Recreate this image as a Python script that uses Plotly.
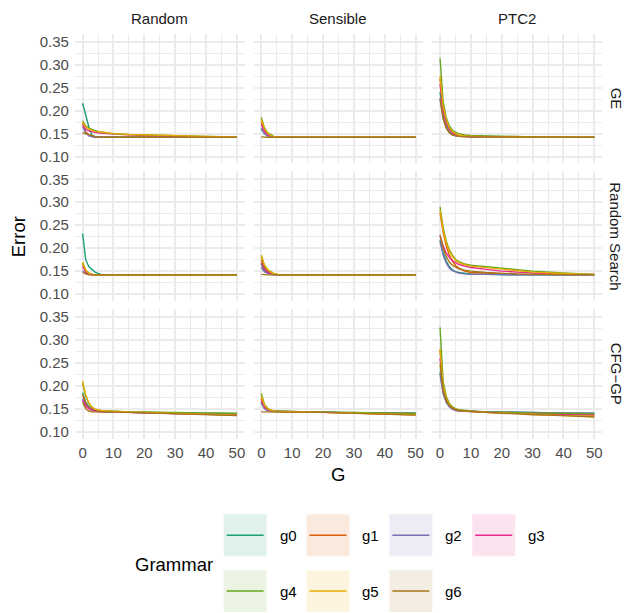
import plotly.graph_objects as go
from plotly.subplots import make_subplots

# page body has an 8px default margin, so the figure is drawn 8px in from the window corner
OFF = 8
W, H = 635 - OFF, 613 - OFF

GRAMMARS = ["g0", "g1", "g2", "g3", "g4", "g5", "g6"]
COLORS = ["#1B9E77", "#D95F02", "#7570B3", "#E7298A", "#66A61E", "#E6AB02", "#A6761D"]
INITS = ["Random", "Sensible", "PTC2"]
METHODS = ["GE", "Random Search", "CFG\u2212GP"]
X_TICKS = [0, 10, 20, 30, 40, 50]
Y_TICKS = [0.10, 0.15, 0.20, 0.25, 0.30, 0.35]
Y_TICK_TEXT = ["0.10", "0.15", "0.20", "0.25", "0.30", "0.35"]

G = [0, 1, 2, 3, 4, 5, 6, 8, 10, 15, 20, 25, 30, 40, 50]

# ---- GE ----
GE_RANDOM = {
    "g0": [0.216, 0.190, 0.165, 0.147, 0.143, 0.142, 0.142, 0.142, 0.142, 0.142, 0.142, 0.142, 0.142, 0.142, 0.142],
    "g1": [0.172, 0.155, 0.147, 0.144, 0.142, 0.142, 0.142, 0.142, 0.142, 0.142, 0.142, 0.142, 0.142, 0.142, 0.142],
    "g2": [0.165, 0.152, 0.145, 0.143, 0.142, 0.142, 0.142, 0.142, 0.142, 0.142, 0.142, 0.142, 0.142, 0.142, 0.142],
    "g3": [0.168, 0.160, 0.156, 0.154, 0.153, 0.152, 0.151, 0.150, 0.149, 0.147, 0.146, 0.145, 0.144, 0.143, 0.142],
    "g4": [0.178, 0.167, 0.162, 0.159, 0.157, 0.155, 0.154, 0.152, 0.150, 0.148, 0.147, 0.146, 0.145, 0.144, 0.143],
    "g5": [0.175, 0.165, 0.160, 0.157, 0.155, 0.154, 0.153, 0.151, 0.150, 0.148, 0.147, 0.146, 0.145, 0.144, 0.143],
    "g6": [0.152, 0.150, 0.147, 0.145, 0.143, 0.142, 0.142, 0.142, 0.142, 0.142, 0.142, 0.142, 0.142, 0.142, 0.142],
}
GE_SENSIBLE = {
    "g0": [0.160, 0.150, 0.145, 0.143, 0.142, 0.142, 0.142, 0.142, 0.142, 0.142, 0.142, 0.142, 0.142, 0.142, 0.142],
    "g1": [0.175, 0.158, 0.149, 0.145, 0.143, 0.142, 0.142, 0.142, 0.142, 0.142, 0.142, 0.142, 0.142, 0.142, 0.142],
    "g2": [0.162, 0.150, 0.145, 0.143, 0.142, 0.142, 0.142, 0.142, 0.142, 0.142, 0.142, 0.142, 0.142, 0.142, 0.142],
    "g3": [0.170, 0.155, 0.148, 0.145, 0.143, 0.142, 0.142, 0.142, 0.142, 0.142, 0.142, 0.142, 0.142, 0.142, 0.142],
    "g4": [0.185, 0.163, 0.152, 0.147, 0.144, 0.143, 0.142, 0.142, 0.142, 0.142, 0.142, 0.142, 0.142, 0.142, 0.142],
    "g5": [0.180, 0.162, 0.151, 0.146, 0.144, 0.143, 0.142, 0.142, 0.142, 0.142, 0.142, 0.142, 0.142, 0.142, 0.142],
    "g6": [0.143, 0.142, 0.142, 0.142, 0.142, 0.142, 0.142, 0.142, 0.142, 0.142, 0.142, 0.142, 0.142, 0.142, 0.142],
}
GE_PTC2 = {
    "g0": [0.240, 0.195, 0.170, 0.157, 0.150, 0.147, 0.145, 0.144, 0.143, 0.143, 0.142, 0.142, 0.142, 0.142, 0.142],
    "g1": [0.270, 0.205, 0.177, 0.161, 0.152, 0.148, 0.146, 0.144, 0.144, 0.143, 0.142, 0.142, 0.142, 0.142, 0.142],
    "g2": [0.228, 0.185, 0.163, 0.153, 0.148, 0.145, 0.144, 0.143, 0.143, 0.142, 0.142, 0.142, 0.142, 0.142, 0.142],
    "g3": [0.258, 0.200, 0.174, 0.160, 0.152, 0.148, 0.146, 0.144, 0.143, 0.143, 0.142, 0.142, 0.142, 0.142, 0.142],
    "g4": [0.314, 0.220, 0.185, 0.167, 0.158, 0.153, 0.150, 0.147, 0.146, 0.145, 0.144, 0.143, 0.143, 0.142, 0.142],
    "g5": [0.275, 0.210, 0.180, 0.163, 0.154, 0.150, 0.147, 0.145, 0.144, 0.143, 0.143, 0.142, 0.142, 0.142, 0.142],
    "g6": [0.225, 0.182, 0.162, 0.152, 0.147, 0.145, 0.144, 0.143, 0.143, 0.142, 0.142, 0.142, 0.142, 0.142, 0.142],
}

# ---- Random Search ----
RS_RANDOM = {
    "g0": [0.232, 0.175, 0.160, 0.153, 0.148, 0.145, 0.143, 0.142, 0.142, 0.142, 0.142, 0.142, 0.142, 0.142, 0.142],
    "g1": [0.165, 0.150, 0.145, 0.143, 0.142, 0.142, 0.142, 0.142, 0.142, 0.142, 0.142, 0.142, 0.142, 0.142, 0.142],
    "g2": [0.150, 0.145, 0.143, 0.142, 0.142, 0.142, 0.142, 0.142, 0.142, 0.142, 0.142, 0.142, 0.142, 0.142, 0.142],
    "g3": [0.160, 0.148, 0.144, 0.142, 0.142, 0.142, 0.142, 0.142, 0.142, 0.142, 0.142, 0.142, 0.142, 0.142, 0.142],
    "g4": [0.168, 0.152, 0.146, 0.143, 0.142, 0.142, 0.142, 0.142, 0.142, 0.142, 0.142, 0.142, 0.142, 0.142, 0.142],
    "g5": [0.170, 0.153, 0.146, 0.143, 0.142, 0.142, 0.142, 0.142, 0.142, 0.142, 0.142, 0.142, 0.142, 0.142, 0.142],
    "g6": [0.148, 0.144, 0.142, 0.142, 0.142, 0.142, 0.142, 0.142, 0.142, 0.142, 0.142, 0.142, 0.142, 0.142, 0.142],
}
RS_SENSIBLE = {
    "g0": [0.165, 0.152, 0.147, 0.144, 0.143, 0.142, 0.142, 0.142, 0.142, 0.142, 0.142, 0.142, 0.142, 0.142, 0.142],
    "g1": [0.175, 0.158, 0.150, 0.146, 0.144, 0.143, 0.142, 0.142, 0.142, 0.142, 0.142, 0.142, 0.142, 0.142, 0.142],
    "g2": [0.158, 0.149, 0.145, 0.143, 0.142, 0.142, 0.142, 0.142, 0.142, 0.142, 0.142, 0.142, 0.142, 0.142, 0.142],
    "g3": [0.168, 0.155, 0.148, 0.145, 0.143, 0.142, 0.142, 0.142, 0.142, 0.142, 0.142, 0.142, 0.142, 0.142, 0.142],
    "g4": [0.182, 0.162, 0.153, 0.148, 0.145, 0.143, 0.142, 0.142, 0.142, 0.142, 0.142, 0.142, 0.142, 0.142, 0.142],
    "g5": [0.185, 0.164, 0.154, 0.148, 0.145, 0.143, 0.142, 0.142, 0.142, 0.142, 0.142, 0.142, 0.142, 0.142, 0.142],
    "g6": [0.143, 0.142, 0.142, 0.142, 0.142, 0.142, 0.142, 0.142, 0.142, 0.142, 0.142, 0.142, 0.142, 0.142, 0.142],
}
RS_PTC2 = {
    "g0": [0.218, 0.190, 0.172, 0.160, 0.153, 0.149, 0.147, 0.145, 0.144, 0.143, 0.142, 0.142, 0.142, 0.142, 0.142],
    "g1": [0.277, 0.235, 0.205, 0.185, 0.172, 0.163, 0.157, 0.150, 0.147, 0.145, 0.144, 0.143, 0.143, 0.142, 0.142],
    "g2": [0.215, 0.185, 0.168, 0.157, 0.151, 0.148, 0.146, 0.144, 0.143, 0.143, 0.142, 0.142, 0.142, 0.142, 0.142],
    "g3": [0.228, 0.205, 0.190, 0.180, 0.173, 0.168, 0.165, 0.161, 0.158, 0.154, 0.150, 0.148, 0.146, 0.144, 0.143],
    "g4": [0.290, 0.245, 0.215, 0.197, 0.185, 0.176, 0.171, 0.166, 0.163, 0.160, 0.157, 0.153, 0.150, 0.146, 0.143],
    "g5": [0.283, 0.240, 0.212, 0.194, 0.182, 0.174, 0.169, 0.164, 0.161, 0.158, 0.155, 0.151, 0.148, 0.145, 0.143],
    "g6": [0.229, 0.200, 0.182, 0.170, 0.163, 0.158, 0.155, 0.152, 0.150, 0.147, 0.145, 0.144, 0.143, 0.142, 0.142],
}

# ---- CFG-GP ----
CFG_RANDOM = {
    "g0": [0.185, 0.165, 0.155, 0.150, 0.147, 0.145, 0.145, 0.144, 0.144, 0.143, 0.142, 0.141, 0.140, 0.140, 0.139],
    "g1": [0.180, 0.162, 0.153, 0.148, 0.146, 0.145, 0.144, 0.144, 0.143, 0.142, 0.141, 0.140, 0.139, 0.138, 0.137],
    "g2": [0.172, 0.158, 0.151, 0.147, 0.145, 0.144, 0.144, 0.143, 0.143, 0.142, 0.141, 0.140, 0.139, 0.138, 0.137],
    "g3": [0.168, 0.156, 0.150, 0.147, 0.145, 0.144, 0.144, 0.143, 0.143, 0.142, 0.141, 0.140, 0.139, 0.138, 0.137],
    "g4": [0.205, 0.178, 0.162, 0.153, 0.149, 0.147, 0.146, 0.145, 0.144, 0.143, 0.143, 0.142, 0.142, 0.141, 0.140],
    "g5": [0.210, 0.180, 0.163, 0.154, 0.149, 0.147, 0.146, 0.145, 0.144, 0.143, 0.142, 0.141, 0.140, 0.138, 0.136],
    "g6": [0.165, 0.150, 0.145, 0.143, 0.143, 0.143, 0.143, 0.143, 0.142, 0.142, 0.141, 0.140, 0.139, 0.137, 0.135],
}
CFG_SENSIBLE = {
    "g0": [0.165, 0.152, 0.147, 0.145, 0.144, 0.144, 0.144, 0.144, 0.144, 0.143, 0.143, 0.142, 0.142, 0.141, 0.140],
    "g1": [0.172, 0.156, 0.149, 0.146, 0.145, 0.144, 0.144, 0.144, 0.143, 0.143, 0.142, 0.141, 0.140, 0.138, 0.137],
    "g2": [0.162, 0.150, 0.146, 0.145, 0.144, 0.144, 0.144, 0.144, 0.144, 0.143, 0.143, 0.142, 0.142, 0.141, 0.141],
    "g3": [0.168, 0.154, 0.148, 0.146, 0.145, 0.144, 0.144, 0.144, 0.143, 0.143, 0.142, 0.141, 0.140, 0.139, 0.138],
    "g4": [0.183, 0.160, 0.151, 0.147, 0.145, 0.145, 0.144, 0.144, 0.144, 0.143, 0.143, 0.142, 0.142, 0.141, 0.140],
    "g5": [0.178, 0.158, 0.150, 0.147, 0.145, 0.144, 0.144, 0.144, 0.143, 0.143, 0.142, 0.141, 0.140, 0.138, 0.137],
    "g6": [0.143, 0.143, 0.143, 0.143, 0.143, 0.143, 0.143, 0.143, 0.143, 0.142, 0.142, 0.141, 0.140, 0.138, 0.136],
}
CFG_PTC2 = {
    "g0": [0.230, 0.185, 0.165, 0.155, 0.150, 0.147, 0.146, 0.145, 0.144, 0.143, 0.143, 0.142, 0.141, 0.140, 0.139],
    "g1": [0.278, 0.198, 0.172, 0.159, 0.152, 0.149, 0.147, 0.145, 0.144, 0.142, 0.141, 0.140, 0.139, 0.137, 0.136],
    "g2": [0.225, 0.183, 0.164, 0.154, 0.149, 0.146, 0.145, 0.144, 0.144, 0.143, 0.143, 0.142, 0.142, 0.141, 0.141],
    "g3": [0.260, 0.193, 0.170, 0.158, 0.151, 0.148, 0.146, 0.145, 0.144, 0.142, 0.141, 0.140, 0.139, 0.138, 0.137],
    "g4": [0.327, 0.210, 0.177, 0.162, 0.154, 0.150, 0.148, 0.146, 0.145, 0.143, 0.142, 0.142, 0.141, 0.140, 0.139],
    "g5": [0.280, 0.200, 0.173, 0.160, 0.152, 0.149, 0.147, 0.145, 0.144, 0.142, 0.141, 0.139, 0.138, 0.135, 0.133],
    "g6": [0.247, 0.190, 0.168, 0.157, 0.151, 0.148, 0.146, 0.145, 0.144, 0.142, 0.140, 0.139, 0.137, 0.135, 0.132],
}

PANELS = [
    [GE_RANDOM, GE_SENSIBLE, GE_PTC2],
    [RS_RANDOM, RS_SENSIBLE, RS_PTC2],
    [CFG_RANDOM, CFG_SENSIBLE, CFG_PTC2],
]

FONT = "Liberation Sans, Arial, Helvetica, sans-serif"
GRID = "#EBEBEB"

# panel geometry in window pixels
COL_X = [(75, 245), (254, 424), (433, 603)]
ROW_Y = [(33, 163), (171, 301), (309, 439)]


def px_x(x):
    return (x - OFF) / W


def px_y(y):
    return 1 - (y - OFF) / H


fig = make_subplots(rows=3, cols=3)

for r in range(3):
    for c in range(3):
        panel = PANELS[r][c]
        for gi, gname in enumerate(GRAMMARS):
            fig.add_trace(
                go.Scatter(
                    x=G, y=panel[gname], mode="lines",
                    line=dict(color=COLORS[gi], width=1.4),
                    name=gname, showlegend=False, hoverinfo="skip",
                ),
                row=r + 1, col=c + 1,
            )

for r in range(3):
    for c in range(3):
        idx = r * 3 + c + 1
        xk = "xaxis" if idx == 1 else f"xaxis{idx}"
        yk = "yaxis" if idx == 1 else f"yaxis{idx}"
        x0, x1 = COL_X[c]
        y0, y1 = ROW_Y[r]
        fig.layout[xk].update(
            domain=[px_x(x0), px_x(x1)],
            range=[-2.5, 52.5],
            tickvals=X_TICKS, ticktext=[str(v) for v in X_TICKS],
            showticklabels=(r == 2),
            showgrid=True, gridcolor=GRID, gridwidth=1.7,
            minor=dict(dtick=5, tick0=0, showgrid=True, gridcolor=GRID, gridwidth=1.1),
            zeroline=False, showline=False, ticks="",
            tickfont=dict(family=FONT, size=15, color="#4D4D4D"),
            ticklabelstandoff=3,
        )
        fig.layout[yk].update(
            domain=[px_y(y1), px_y(y0)],
            range=[0.085, 0.367],
            tickvals=Y_TICKS, ticktext=Y_TICK_TEXT,
            showticklabels=(c == 0),
            showgrid=True, gridcolor=GRID, gridwidth=1.7,
            minor=dict(dtick=0.025, tick0=0.1, showgrid=True, gridcolor=GRID, gridwidth=1.1),
            zeroline=False, showline=False, ticks="",
            tickfont=dict(family=FONT, size=15, color="#4D4D4D"),
            ticklabelstandoff=5,
        )

annotations = []
# column strips
for c, name in enumerate(INITS):
    x0, x1 = COL_X[c]
    annotations.append(dict(
        text=name, x=px_x((x0 + x1) / 2), y=px_y(18), xref="paper", yref="paper",
        xanchor="center", yanchor="middle", showarrow=False,
        font=dict(family=FONT, size=15, color="#1A1A1A"),
    ))
# row strips
for r, name in enumerate(METHODS):
    y0, y1 = ROW_Y[r]
    annotations.append(dict(
        text=name, x=px_x(617), y=px_y((y0 + y1) / 2), xref="paper", yref="paper",
        xanchor="center", yanchor="middle", showarrow=False, textangle=90,
        font=dict(family=FONT, size=15, color="#1A1A1A"),
    ))
# axis titles
annotations.append(dict(
    text="Error", x=px_x(18), y=px_y(236), xref="paper", yref="paper",
    xanchor="center", yanchor="middle", showarrow=False, textangle=-90,
    font=dict(family=FONT, size=18.5, color="#000000"),
))
annotations.append(dict(
    text="G", x=px_x(339), y=px_y(475), xref="paper", yref="paper",
    xanchor="center", yanchor="middle", showarrow=False,
    font=dict(family=FONT, size=18.5, color="#000000"),
))

# legend (drawn manually to mimic ggplot key boxes)
annotations.append(dict(
    text="Grammar", x=px_x(133), y=px_y(565), xref="paper", yref="paper",
    xanchor="left", yanchor="middle", showarrow=False,
    font=dict(family=FONT, size=18.5, color="#000000"),
))
shapes = []
KEY_COLS = [224, 307, 390, 473]
KEY_ROWS = [515, 571]
KEY_W, KEY_H = 43, 42


def rgba(hexc, a):
    h = hexc.lstrip("#")
    return f"rgba({int(h[0:2],16)},{int(h[2:4],16)},{int(h[4:6],16)},{a})"


for gi, gname in enumerate(GRAMMARS):
    kx = KEY_COLS[gi % 4]
    ky = KEY_ROWS[gi // 4]
    shapes.append(dict(
        type="rect", xref="paper", yref="paper",
        x0=px_x(kx), x1=px_x(kx + KEY_W), y0=px_y(ky + KEY_H), y1=px_y(ky),
        fillcolor=rgba(COLORS[gi], 0.13), line=dict(width=0), layer="above",
    ))
    cy = ky + KEY_H / 2
    shapes.append(dict(
        type="line", xref="paper", yref="paper",
        x0=px_x(kx + 3), x1=px_x(kx + KEY_W - 3), y0=px_y(cy), y1=px_y(cy),
        line=dict(color=COLORS[gi], width=1.6), layer="above",
    ))
    annotations.append(dict(
        text=gname, x=px_x(kx + 54), y=px_y(cy), xref="paper", yref="paper",
        xanchor="left", yanchor="middle", showarrow=False,
        font=dict(family=FONT, size=15, color="#000000"),
    ))

fig.update_layout(
    width=W, height=H, autosize=False,
    margin=dict(l=0, r=0, t=0, b=0),
    paper_bgcolor="white", plot_bgcolor="white",
    showlegend=False,
    annotations=annotations, shapes=shapes,
    font=dict(family=FONT),
)

fig.write_html("out.html")
